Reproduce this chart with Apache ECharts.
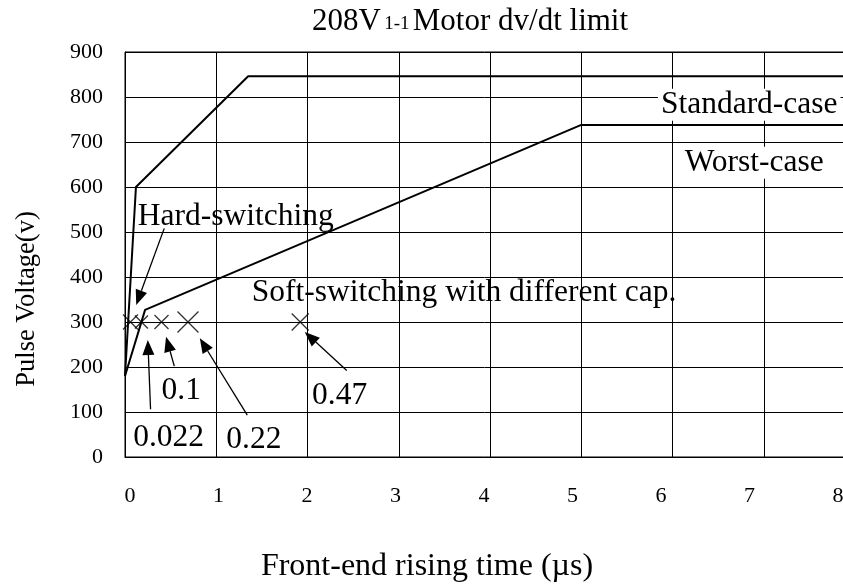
<!DOCTYPE html>
<html>
<head>
<meta charset="utf-8">
<script src="https://cdn.jsdelivr.net/npm/echarts@6/dist/echarts.min.js"></script>
<style>
html,body{margin:0;padding:0;background:#fff;}
#chart{width:843px;height:586px;}
</style>
</head>
<body>
<div id="chart"></div>
<script>
// ---- data ----
var xTicks = [0, 1, 2, 3, 4, 5, 6, 7, 8];
var yTicks = [0, 100, 200, 300, 400, 500, 600, 700, 800, 900];

var standardX = [0, 0.12, 1.35, 8];
var standardY = [180, 600, 846, 846];

var worstX = [0, 0.22, 5.0, 8];
var worstY = [180, 327, 738, 738];

// measured points (rise time us, voltage V)
var pointNames = ['Hard-switching', '0.022', '0.1', '0.22', '0.47'];
var pointX = [0.06, 0.18, 0.40, 0.69, 1.92];
var pointY = [300, 300, 300, 300, 300];

// annotation arrows: from (x1,y1) to tip (x2,y2)
var arrowFromX = [0.43, 0.28, 0.54, 1.34, 2.43];
var arrowFromY = [508, 106, 202, 93, 192];
var arrowToX = [0.123, 0.25, 0.45, 0.82, 1.97];
var arrowToY = [338, 260, 267, 264, 278];

// annotation labels
var labelText = ['Hard-switching', 'Soft-switching with different cap.', 'Standard-case', 'Worst-case', '0.1', '0.022', '0.22', '0.47'];
var labelX = [0.14, 1.39, 5.84, 6.10, 0.40, 0.09, 1.11, 2.05];
var labelY = [533, 364, 783, 654, 147, 43, 39, 137];
var labelBoxed = [false, false, true, true, false, false, false, false];

var crossSizes = [15, 13, 14, 21, 17];

// ---- build ----
var FONT = 'Liberation Serif';
function zip(a, b) { return a.map(function (v, i) { return [v, b[i]]; }); }

var chart = echarts.init(document.getElementById('chart'), null, {renderer: 'canvas'});

var arrowData = arrowFromX.map(function (v, i) { return [v, arrowFromY[i], arrowToX[i], arrowToY[i]]; });
var labelData = labelX.map(function (v, i) { return [v, labelY[i], i]; });

var option = {
  animation: false,
  backgroundColor: '#fff',
  grid: {left: 125, top: 52, height: 405, width: 730, outerBoundsMode: 'none', containLabel: false,
         show: true, borderColor: '#000', borderWidth: 1},
  xAxis: [
    {
      type: 'value', min: xTicks[0], max: xTicks[xTicks.length - 1], interval: 1,
      axisLine: {show: true, lineStyle: {color: '#000', width: 1}},
      axisTick: {show: false},
      splitLine: {show: true, lineStyle: {color: '#000', width: 1}},
      axisLabel: {show: false}
    },
    {
      // tick-label axis (labels in the source sit on a slightly tighter spacing)
      type: 'value', position: 'bottom', min: xTicks[0], max: 8.25, interval: 1,
      axisLine: {show: false}, axisTick: {show: false}, splitLine: {show: false},
      axisLabel: {color: '#000', fontFamily: FONT, fontSize: 22, margin: 28, padding: [0, 0, 0, 10],
                  showMaxLabel: false,
                  formatter: function (v) { return xTicks.indexOf(v) >= 0 ? String(v) : ''; }}
    }
  ],
  yAxis: {
    type: 'value', min: yTicks[0], max: yTicks[yTicks.length - 1], interval: 100,
    axisLine: {show: true, lineStyle: {color: '#000', width: 1}},
    axisTick: {show: false},
    splitLine: {show: true, lineStyle: {color: '#000', width: 1}},
    axisLabel: {color: '#000', fontFamily: FONT, fontSize: 22, margin: 22}
  },
  graphic: [
    {
      type: 'text', x: 470, y: 22,
      style: {
        text: '{a|208V} {b|1-1} {a|Motor dv/dt limit}',
        align: 'center', verticalAlign: 'middle', fill: '#000',
        rich: {
          a: {fontFamily: FONT, fontSize: 31, fill: '#000', color: '#000'},
          b: {fontFamily: FONT, fontSize: 19, fill: '#000', color: '#000', padding: [4, 0, 0, 0]}
        }
      }
    },
    {
      type: 'text', x: 427, y: 567,
      style: {text: 'Front-end rising time (\u00b5s)', font: '32px "' + FONT + '"', fill: '#000', align: 'center', verticalAlign: 'middle'}
    },
    {
      type: 'text', x: 27, y: 299, rotation: Math.PI / 2,
      style: {text: 'Pulse Voltage(v)', font: '26.5px "' + FONT + '"', fill: '#000', align: 'center', verticalAlign: 'middle'}
    }
  ],
  series: [
    {
      name: 'Annotations', type: 'custom', z: 3, clip: false,
      data: labelData,
      dimensions: ['x', 'y', 'i'],
      encode: {x: 0, y: 1},
      renderItem: function (params, api) {
        var i = api.value(2);
        var p = api.coord([api.value(0), api.value(1)]);
        var style = {text: labelText[i], font: '31.5px "' + FONT + '"', fill: '#000', align: 'left', verticalAlign: 'middle'};
        if (labelBoxed[i]) { style.backgroundColor = '#fff'; style.padding = [0, 3, 0, 3]; }
        return {type: 'text', x: p[0], y: p[1], style: style};
      }
    },
    {
      name: 'Standard-case', type: 'line', z: 5, data: zip(standardX, standardY),
      symbol: 'none', lineStyle: {color: '#000', width: 2}, itemStyle: {color: '#000'}
    },
    {
      name: 'Worst-case', type: 'line', z: 5, data: zip(worstX, worstY),
      symbol: 'none', lineStyle: {color: '#000', width: 2}, itemStyle: {color: '#000'}
    },
    {
      name: 'Measured', type: 'scatter', z: 6,
      data: zip(pointX, pointY),
      symbol: 'path://M0 0L10 10M10 0L0 10',
      symbolSize: function (v, params) { return crossSizes[params.dataIndex]; },
      itemStyle: {color: 'rgba(0,0,0,0)', borderColor: '#000', borderWidth: 1.3},
      emphasis: {disabled: true}
    },
    {
      name: 'Arrows', type: 'custom', z: 7, clip: false,
      data: arrowData,
      dimensions: ['x1', 'y1', 'x2', 'y2'],
      encode: {x: [0, 2], y: [1, 3]},
      renderItem: function (params, api) {
        var a = api.coord([api.value(0), api.value(1)]);
        var b = api.coord([api.value(2), api.value(3)]);
        var dx = b[0] - a[0], dy = b[1] - a[1];
        var len = Math.sqrt(dx * dx + dy * dy);
        var ux = dx / len, uy = dy / len;
        var hl = 15, hw = 6;
        var base = [b[0] - ux * hl, b[1] - uy * hl];
        return {
          type: 'group',
          children: [
            {type: 'line', shape: {x1: a[0], y1: a[1], x2: base[0], y2: base[1]}, style: {stroke: '#000', lineWidth: 1.3}},
            {type: 'polygon', shape: {points: [b, [base[0] - uy * hw, base[1] + ux * hw], [base[0] + uy * hw, base[1] - ux * hw]]}, style: {fill: '#000'}}
          ]
        };
      }
    }
  ]
};
chart.setOption(option);
</script>
</body>
</html>
